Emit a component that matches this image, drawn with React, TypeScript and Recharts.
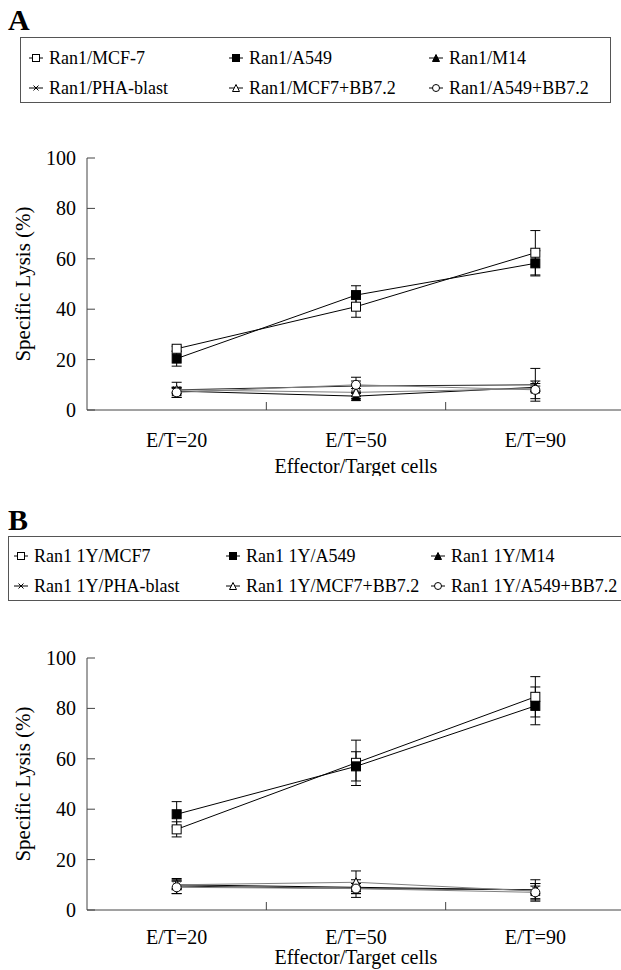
import React from 'react';
import { LineChart, Line, XAxis, YAxis, ErrorBar } from 'recharts';

const categories = ['E/T=20', 'E/T=50', 'E/T=90'];
const yTicks = [0, 20, 40, 60, 80, 100];

const seriesKeys = ['mcf7', 'a549', 'm14', 'pha', 'mcf7bb', 'a549bb'];
const seriesShapes = ['openSquare', 'filledSquare', 'filledTriangle', 'cross', 'openTriangle', 'openCircle'];
const seriesStrokes = ['#000', '#000', '#000', '#222', '#808080', '#808080'];

const namesA = ['Ran1/MCF-7', 'Ran1/A549', 'Ran1/M14', 'Ran1/PHA-blast', 'Ran1/MCF7+BB7.2', 'Ran1/A549+BB7.2'];
const namesB = ['Ran1 1Y/MCF7', 'Ran1 1Y/A549', 'Ran1 1Y/M14', 'Ran1 1Y/PHA-blast', 'Ran1 1Y/MCF7+BB7.2', 'Ran1 1Y/A549+BB7.2'];

// panel A values and error bars
const aMcf7 = [24.3, 41, 62.4];
const aMcf7Err = [1, 4.2, 8.8];
const aA549 = [20.4, 45.6, 58.2];
const aA549Err = [3, 3.7, 5];
const aM14 = [7.5, 5.5, 9];
const aM14Err = [1, 1, 1.5];
const aPha = [8, 9.5, 10];
const aPhaErr = [3, 2, 6.5];
const aMcf7bb = [8, 7, 8.5];
const aMcf7bbErr = [1, 1.5, 1];
const aA549bb = [7, 10, 8];
const aA549bbErr = [2, 3, 3.5];

// panel B values and error bars
const bMcf7 = [32, 58.4, 84.6];
const bMcf7Err = [3, 9, 8];
const bA549 = [38, 57, 81];
const bA549Err = [5, 5.8, 7.5];
const bM14 = [10, 9, 8];
const bM14Err = [1.5, 1.5, 1.5];
const bPha = [9.5, 8.5, 8];
const bPhaErr = [3, 2, 4];
const bMcf7bb = [10, 11, 7.5];
const bMcf7bbErr = [2, 4.5, 3];
const bA549bb = [9, 8.5, 7];
const bA549bbErr = [2.5, 3.5, 3.5];

const FONT = '"Liberation Serif", "Times New Roman", serif';

function buildRows(values: number[][], errors: number[][]) {
  return categories.map((cat, i) => {
    const row: any = { cat };
    seriesKeys.forEach((k, s) => {
      row[k] = values[s][i];
      row[k + 'Err'] = errors[s][i];
    });
    return row;
  });
}

const dataA = buildRows(
  [aMcf7, aA549, aM14, aPha, aMcf7bb, aA549bb],
  [aMcf7Err, aA549Err, aM14Err, aPhaErr, aMcf7bbErr, aA549bbErr]
);
const dataB = buildRows(
  [bMcf7, bA549, bM14, bPha, bMcf7bb, bA549bb],
  [bMcf7Err, bA549Err, bM14Err, bPhaErr, bMcf7bbErr, bA549bbErr]
);

function Marker({ shape, cx, cy, size = 9 }: { shape: string; cx: number; cy: number; size?: number }) {
  const h = size / 2;
  switch (shape) {
    case 'openSquare':
      return <rect x={cx - h} y={cy - h} width={size} height={size} fill="#fff" stroke="#000" />;
    case 'filledSquare':
      return <rect x={cx - h} y={cy - h} width={size} height={size} fill="#000" stroke="#000" />;
    case 'filledTriangle':
      return <polygon points={`${cx},${cy - h} ${cx + h},${cy + h} ${cx - h},${cy + h}`} fill="#000" stroke="#000" />;
    case 'openTriangle':
      return <polygon points={`${cx},${cy - h} ${cx + h},${cy + h} ${cx - h},${cy + h}`} fill="#fff" stroke="#000" />;
    case 'cross':
      return (
        <g stroke="#000">
          <line x1={cx - h + 1} y1={cy - h + 1} x2={cx + h - 1} y2={cy + h - 1} />
          <line x1={cx - h + 1} y1={cy + h - 1} x2={cx + h - 1} y2={cy - h + 1} />
        </g>
      );
    default:
      return <circle cx={cx} cy={cy} r={h} fill="#fff" stroke="#000" />;
  }
}

const YTick = (props: any) => {
  const { x, y, payload } = props;
  return (
    <g>
      <line x1={x} x2={x + 8} y1={y} y2={y} stroke="#444" />
      <text x={x - 11} y={y} textAnchor="end" dominantBaseline="central" fontSize={20} fontFamily={FONT} fill="#000">
        {payload.value}
      </text>
    </g>
  );
};

const makeXTick = (dy: number) => (props: any) => {
  const { x, y, payload } = props;
  const half = payload.offset ?? 89.7;
  return (
    <g>
      {payload.index < categories.length - 1 && (
        <line x1={x + half} x2={x + half} y1={y} y2={y - 8} stroke="#444" />
      )}
      <text x={x} y={y + dy} textAnchor="middle" fontSize={20} fontFamily={FONT} fill="#000">
        {payload.value}
      </text>
    </g>
  );
};

const makeXTitle = (dy: number) => (props: any) => {
  const vb = props.viewBox;
  return (
    <text x={vb.x + vb.width / 2} y={vb.y + dy} textAnchor="middle" fontSize={20} fontFamily={FONT} fill="#000">
      Effector/Target cells
    </text>
  );
};

const YTitle = (props: any) => {
  const vb = props.viewBox;
  const cx = vb.x + 23;
  const cy = vb.y + vb.height / 2;
  return (
    <text
      x={cx}
      y={cy}
      transform={`rotate(-90 ${cx} ${cy})`}
      textAnchor="middle"
      dominantBaseline="central"
      fontSize={21}
      fontFamily={FONT}
      fill="#000"
    >
      Specific Lysis (%)
    </text>
  );
};

function Panel({ data, top, tickDy, titleDy }: { data: any[]; top: number; tickDy: number; titleDy: number }) {
  const XTick = makeXTick(tickDy);
  const XTitle = makeXTitle(titleDy);
  return (
    <div style={{ position: 'absolute', left: 0, top }}>
      <LineChart width={626} height={336} data={data} margin={{ top: 18, right: 1, bottom: 0, left: 0 }}>
        <XAxis
          dataKey="cat"
          scale="band"
          height={66}
          axisLine={{ stroke: '#444' }}
          tickLine={false}
          tickSize={0}
          tickMargin={0}
          tick={<XTick />}
          interval={0}
          label={<XTitle />}
        />
        <YAxis
          domain={[0, 100]}
          ticks={yTicks}
          width={87}
          axisLine={{ stroke: '#444' }}
          tickLine={false}
          tickSize={0}
          tickMargin={0}
          tick={<YTick />}
          label={<YTitle />}
        />
        {seriesKeys.map((k, s) => (
          <Line
            key={k}
            dataKey={k}
            stroke={seriesStrokes[s]}
            strokeWidth={1}
            isAnimationActive={false}
            dot={(p: any) => (
              <g key={`${k}-${p.index}`}>
                <Marker shape={seriesShapes[s]} cx={p.cx} cy={p.cy} />
              </g>
            )}
            activeDot={false}
          >
            <ErrorBar dataKey={k + 'Err'} width={5} stroke="#000" strokeWidth={1} direction="y" />
          </Line>
        ))}
      </LineChart>
    </div>
  );
}

function LegendBox({ names, box, textCols, rowTops }: { names: string[]; box: any; textCols: number[]; rowTops: number[] }) {
  return (
    <div
      style={{
        position: 'absolute',
        border: '1px solid #555',
        boxSizing: 'border-box',
        ...box,
      }}
    >
      {names.map((n, i) => (
        <div
          key={n}
          style={{
            position: 'absolute',
            left: textCols[i % 3] - box.left - 21,
            top: rowTops[Math.floor(i / 3)] - box.top - 11,
            height: 22,
            display: 'flex',
            alignItems: 'center',
            whiteSpace: 'nowrap',
            fontFamily: FONT,
            fontSize: 18,
          }}
        >
          <svg width={16} height={12} style={{ marginRight: 5 }}>
            <line x1={1} x2={15} y1={6} y2={6} stroke="#000" />
            <Marker shape={seriesShapes[i]} cx={8} cy={6} size={7} />
          </svg>
          <span>{n}</span>
        </div>
      ))}
    </div>
  );
}

export default function App() {
  return (
    <div
      style={{
        position: 'absolute',
        left: 0,
        top: 0,
        width: 621,
        height: 970,
        overflow: 'hidden',
        background: '#fff',
        fontFamily: FONT,
      }}
    >
      <div style={{ position: 'absolute', left: 8, top: 5, fontSize: 30, lineHeight: '30px', fontWeight: 'bold' }}>A</div>
      <LegendBox
        names={namesA}
        box={{ left: 20, top: 37, width: 591, height: 66 }}
        textCols={[48, 248, 448]}
        rowTops={[57, 87]}
      />
      <Panel data={dataA} top={140} tickDy={37} titleDy={63} />

      <div style={{ position: 'absolute', left: 8, top: 505, fontSize: 30, lineHeight: '30px', fontWeight: 'bold' }}>B</div>
      <LegendBox
        names={namesB}
        box={{ left: 8, top: 536, width: 620, height: 65 }}
        textCols={[33, 245, 450]}
        rowTops={[555, 585]}
      />
      <Panel data={dataB} top={640} tickDy={34} titleDy={54} />
    </div>
  );
}
